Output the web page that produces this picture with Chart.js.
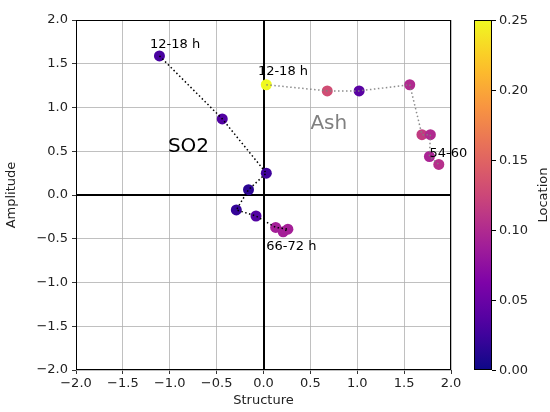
<!DOCTYPE html>
<html>
<head>
<meta charset="utf-8">
<script src="https://cdn.jsdelivr.net/npm/chart.js@4"></script>
<style>
  html, body { margin: 0; padding: 0; background: #fff; }
  #wrap { width: 550px; height: 412px; }
</style>
</head>
<body>
<div id="wrap"><canvas id="chart" width="550" height="412"></canvas></div>
<script>
// SO2 track (Structure, Amplitude, Location)
var so2X = [-1.11, -0.44, 0.03, -0.16, -0.29, -0.08, 0.13, 0.26, 0.21];
var so2Y = [1.59, 0.87, 0.25, 0.06, -0.17, -0.24, -0.37, -0.39, -0.42];
var so2Loc = [0.03, 0.035, 0.025, 0.015, 0.02, 0.035, 0.09, 0.09, 0.09];

// Ash track
var ashX = [0.03, 0.68, 1.02, 1.56, 1.69, 1.78, 1.77, 1.87];
var ashY = [1.26, 1.19, 1.19, 1.26, 0.69, 0.69, 0.44, 0.35];
var ashLoc = [0.25, 0.13, 0.04, 0.1, 0.115, 0.1, 0.095, 0.105];

var axisTicks = [-2.0, -1.5, -1.0, -0.5, 0.0, 0.5, 1.0, 1.5, 2.0];
var cbTicks = [0.00, 0.05, 0.10, 0.15, 0.20, 0.25];
var cbMin = 0, cbMax = 0.25;

// text labels: [text, x, y]
var notes = [
  ["12-18 h", -1.21, 1.68],
  ["12-18 h", -0.06, 1.37],
  ["54-60", 1.77, 0.43],
  ["66-72 h", 0.03, -0.63]
];
var bigNotes = [
  ["SO2", -1.02, 0.49, "#000"],
  ["Ash", 0.5, 0.75, "#808080"]
];

// plasma colormap
var plasmaStops = ["#0d0887", "#4c02a1", "#7e03a8", "#a92395", "#cc4778", "#e56b5d", "#f89441", "#fdc328", "#f0f921"];
function hexToRgb(h) {
  return [parseInt(h.substr(1, 2), 16), parseInt(h.substr(3, 2), 16), parseInt(h.substr(5, 2), 16)];
}
function plasma(t) {
  t = Math.max(0, Math.min(1, t));
  var n = plasmaStops.length - 1;
  var i = Math.min(Math.floor(t * n), n - 1);
  var f = t * n - i;
  var a = hexToRgb(plasmaStops[i]), b = hexToRgb(plasmaStops[i + 1]);
  var c = a.map(function(v, k) { return Math.round(v + (b[k] - v) * f); });
  return "rgb(" + c.join(",") + ")";
}
function locColor(v) {
  return plasma((v - cbMin) / (cbMax - cbMin));
}

function toPoints(xs, ys) {
  return xs.map(function(x, i) { return { x: x, y: ys[i] }; });
}

var font = "DejaVu Sans";
var textColor = "#222";

var extrasPlugin = {
  id: "extras",
  beforeDatasetsDraw: function(chart) {
    var ctx = chart.ctx;
    var a = chart.chartArea;
    var xs = chart.scales.x, ys = chart.scales.y;
    // zero lines
    ctx.save();
    ctx.strokeStyle = "#000";
    ctx.lineWidth = 2;
    ctx.beginPath();
    var x0 = Math.round(xs.getPixelForValue(0));
    var y0 = Math.round(ys.getPixelForValue(0));
    ctx.moveTo(x0, a.top); ctx.lineTo(x0, a.bottom);
    ctx.moveTo(a.left, y0); ctx.lineTo(a.right, y0);
    ctx.stroke();
    ctx.restore();
  },
  afterDraw: function(chart) {
    var ctx = chart.ctx;
    var a = chart.chartArea;
    var xs = chart.scales.x, ys = chart.scales.y;
    ctx.save();
    // frame
    ctx.strokeStyle = "#000";
    ctx.lineWidth = 1;
    ctx.strokeRect(a.left + 0.5, a.top + 0.5, a.right - a.left - 1, a.bottom - a.top - 1);

    // annotations
    ctx.fillStyle = "#000";
    ctx.textAlign = "left";
    ctx.textBaseline = "alphabetic";
    ctx.font = "13px '" + font + "'";
    notes.forEach(function(n) {
      ctx.fillText(n[0], xs.getPixelForValue(n[1]), ys.getPixelForValue(n[2]));
    });
    ctx.font = "20px '" + font + "'";
    bigNotes.forEach(function(n) {
      ctx.fillStyle = n[3];
      ctx.fillText(n[0], xs.getPixelForValue(n[1]), ys.getPixelForValue(n[2]));
    });

    // colorbar
    var cbL = 474, cbR = 492, cbT = a.top, cbB = a.bottom;
    var g = ctx.createLinearGradient(0, cbB, 0, cbT);
    for (var i = 0; i <= 20; i++) {
      g.addColorStop(i / 20, plasma(i / 20));
    }
    ctx.fillStyle = g;
    ctx.fillRect(cbL, cbT, cbR - cbL, cbB - cbT);
    ctx.strokeStyle = "#000";
    ctx.lineWidth = 1;
    ctx.strokeRect(cbL + 0.5, cbT + 0.5, cbR - cbL - 1, cbB - cbT - 1);
    ctx.font = "13px '" + font + "'";
    ctx.fillStyle = textColor;
    ctx.textBaseline = "middle";
    ctx.textAlign = "left";
    cbTicks.forEach(function(t) {
      var py = Math.round(cbB - (t - cbMin) / (cbMax - cbMin) * (cbB - cbT)) + 0.5;
      ctx.beginPath();
      ctx.moveTo(cbR, py); ctx.lineTo(cbR + 4, py);
      ctx.stroke();
      ctx.fillText(t.toFixed(2), cbR + 7, py);
    });
    ctx.translate(544, (cbT + cbB) / 2);
    ctx.rotate(-Math.PI / 2);
    ctx.textAlign = "center";
    ctx.fillText("Location", 0, 0);
    ctx.restore();
  }
};

var ctx = document.getElementById("chart").getContext("2d");
var chart = new Chart(ctx, {
  type: "scatter",
  data: {
    datasets: [
      {
        label: "SO2 track",
        type: "line",
        data: toPoints(so2X, so2Y),
        borderColor: "#000",
        borderWidth: 1.5,
        borderDash: [1.5, 2.5],
        pointRadius: 0,
        fill: false,
        tension: 0,
        order: 0
      },
      {
        label: "Ash track",
        type: "line",
        data: toPoints(ashX, ashY),
        borderColor: "rgba(128,128,128,0.9)",
        borderWidth: 1.5,
        borderDash: [1.5, 2.5],
        pointRadius: 0,
        fill: false,
        tension: 0,
        order: 0
      },
      {
        label: "SO2",
        data: toPoints(so2X, so2Y),
        pointRadius: 5.5,
        pointBackgroundColor: so2Loc.map(locColor),
        pointBorderColor: so2Loc.map(locColor),
        pointBorderWidth: 0,
        order: 1
      },
      {
        label: "Ash",
        data: toPoints(ashX, ashY),
        pointRadius: 5.5,
        pointBackgroundColor: ashLoc.map(locColor),
        pointBorderColor: ashLoc.map(locColor),
        pointBorderWidth: 0,
        order: 1
      }
    ]
  },
  options: {
    responsive: false,
    animation: false,
    layout: { padding: { top: 20, right: 99, left: 0, bottom: 0 } },
    plugins: {
      legend: { display: false },
      tooltip: { enabled: false }
    },
    scales: {
      x: {
        type: "linear",
        min: -2, max: 2,
        afterBuildTicks: function(scale) {
          scale.ticks = axisTicks.map(function(v) { return { value: v }; });
        },
        afterFit: function(scale) { scale.height = 42; },
        ticks: {
          color: textColor,
          font: { family: font, size: 13 },
          padding: 2,
          maxRotation: 0,
          callback: function(v) { return v.toFixed(1).replace("-", "\u2212"); }
        },
        grid: { color: "#b0b0b0", lineWidth: 0.8, tickColor: "#000", tickLength: 4 },
        border: { display: false },
        title: { display: true, text: "Structure", color: textColor, font: { family: font, size: 13 }, padding: { top: 0 } }
      },
      y: {
        type: "linear",
        min: -2, max: 2,
        afterBuildTicks: function(scale) {
          scale.ticks = axisTicks.map(function(v) { return { value: v }; });
        },
        afterFit: function(scale) { scale.width = 76; },
        ticks: {
          color: textColor,
          font: { family: font, size: 13 },
          padding: 4,
          callback: function(v) { return v.toFixed(1).replace("-", "\u2212"); }
        },
        grid: { color: "#b0b0b0", lineWidth: 0.8, tickColor: "#000", tickLength: 4 },
        border: { display: false },
        title: { display: true, text: "Amplitude", color: textColor, font: { family: font, size: 13 }, padding: { bottom: 2 } }
      }
    }
  },
  plugins: [extrasPlugin]
});
</script>
</body>
</html>
